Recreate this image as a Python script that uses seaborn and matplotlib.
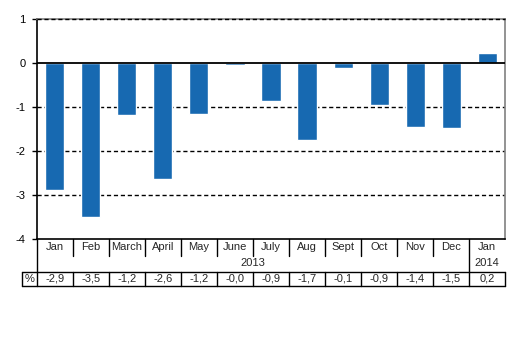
import matplotlib
matplotlib.use("Agg")
import matplotlib.pyplot as plt
import matplotlib.transforms as mtransforms
from matplotlib.lines import Line2D
import seaborn as sns
import pandas as pd

# Monthly change, %
months = ["Jan", "Feb", "March", "April", "May", "June", "July",
          "Aug", "Sept", "Oct", "Nov", "Dec", "Jan"]
years = ["2013"] * 12 + ["2014"]
change = [-2.89, -3.49, -1.18, -2.63, -1.16, -0.04, -0.86,
          -1.74, -0.10, -0.94, -1.44, -1.46, 0.24]
yticks = [1, 0, -1, -2, -3, -4]

BLUE = "#1769b1"
W, H = 529, 348
FS = 8

sns.set_theme(style="white")
plt.rcParams["font.family"] = ["Liberation Sans", "DejaVu Sans"]
plt.rcParams["font.size"] = FS

fig = plt.figure(figsize=(W / 100, H / 100), dpi=100)
ax = fig.add_axes([36.7 / W, 1 - 239.3 / H, (505.3 - 36.7) / W, (239.3 - 19.3) / H])

df = pd.DataFrame({"pos": list(range(len(change))), "change": change})
sns.barplot(data=df, x="pos", y="change", color=BLUE, saturation=1,
            width=0.53, ax=ax, native_scale=False)

ax.set_xlim(-0.5, len(change) - 0.5)
ax.set_ylim(-4, 1)
ax.set_yticks(yticks)
ax.set_yticklabels([str(t) for t in yticks], fontsize=FS, color="black")
ax.set_xticks([])
ax.set_xlabel("")
ax.set_ylabel("")
ax.tick_params(axis="y", which="both", left=True, length=3.5, width=1,
               color="black", pad=4.5)

for yv in [-1, -2, -3]:
    ax.axhline(yv, color="black", lw=1, ls=(0, (3, 2)), zorder=0.5)
ax.axhline(0, color="black", lw=1.3, zorder=3)

for side in ["left", "bottom"]:
    ax.spines[side].set_color("black")
    ax.spines[side].set_linewidth(1.2)
for side in ["top", "right"]:
    ax.spines[side].set_color("#808080")
    ax.spines[side].set_linewidth(1.2)

# dashed gridline at the top value, sitting just above the grey frame
tr = mtransforms.blended_transform_factory(ax.transData, fig.transFigure)
ftr = fig.transFigure


def fy(py):
    return 1 - py / H


fig.add_artist(Line2D([-0.5, len(change) - 0.5], [fy(18.5), fy(18.5)],
                      transform=tr, color="black", lw=1, ls=(0, (3, 2)),
                      clip_on=False))


# Table underneath the axis: month row, year row and value row
def vline(x, y0, y1, transform=tr):
    fig.add_artist(Line2D([x, x], [fy(y0), fy(y1)], transform=transform,
                          color="black", lw=1, clip_on=False))


def hline(x0, x1, y, transform=ftr):
    fig.add_artist(Line2D([x0, x1], [fy(y), fy(y)], transform=transform,
                          color="black", lw=1, clip_on=False))


n = len(months)
for i in range(n):
    fig.text(i, fy(247.5), months[i], transform=tr, ha="center", va="center",
             fontsize=FS)
    fig.text(i, fy(278.8), f"{change[i]:.1f}".replace(".", ","), transform=tr,
             ha="center", va="center", fontsize=FS)

# year labels centred over their months
for yr in dict.fromkeys(years):
    idx = [i for i, y in enumerate(years) if y == yr]
    fig.text((idx[0] + idx[-1]) / 2, fy(263.5), yr, transform=tr,
             ha="center", va="center", fontsize=FS)

for i in range(n - 1):
    if years[i] != years[i + 1]:
        vline(i + 0.5, 239.3, 271.7)
    else:
        vline(i + 0.5, 239.3, 255.7)
vline(-0.5, 239.3, 286.3)

# value row box
hline(22.3 / W, 505.3 / W, 271.7)
hline(22.3 / W, 505.3 / W, 286.3)
vline(22.3 / W, 271.7, 286.3, transform=ftr)
vline(505.3 / W, 271.7, 286.3, transform=ftr)
for i in range(n - 1):
    vline(i + 0.5, 271.7, 286.3)
fig.text(29.5 / W, fy(278.8), "%", ha="center", va="center", fontsize=FS)

fig.savefig("out.png", dpi=100)
